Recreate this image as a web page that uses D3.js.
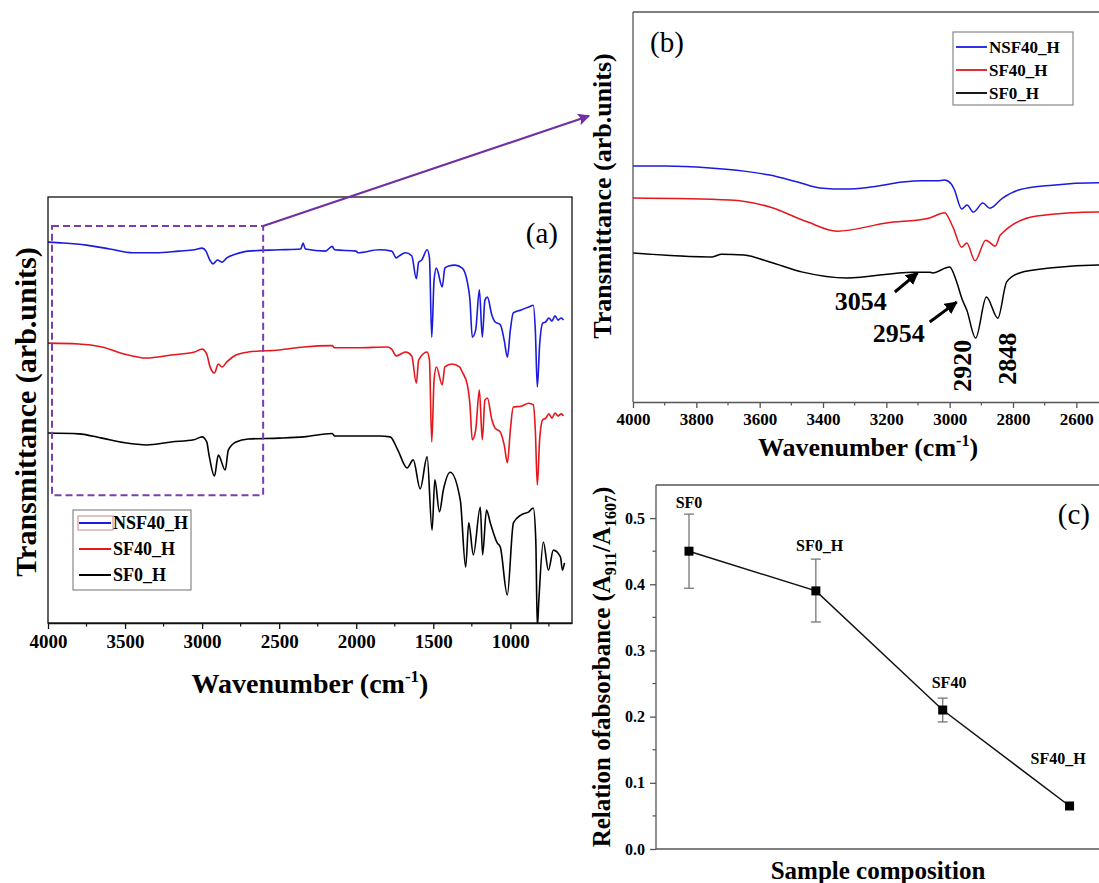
<!DOCTYPE html>
<html><head><meta charset="utf-8">
<script src="https://cdn.jsdelivr.net/npm/d3@7"></script>
<style>
body{margin:0;background:#fff}
svg{display:block}
svg text{font-family:"Liberation Serif","Tinos","Times New Roman","DejaVu Serif",serif !important}
</style>
</head><body>
<svg id="fig" width="1099" height="883"></svg>
<script>
// ---------------- DATA ----------------
const seriesNames = ["NSF40_H", "SF40_H", "SF0_H"];
const seriesColors = ["#1a1ae0", "#e5161c", "#000000"];

// Panel (a): full FTIR spectra [wavenumber, transmittance (arb.)]
const aNSF40H = [[4000,89.4],[3900,89.2],[3750,88.7],[3600,87.8],[3450,86.9],[3300,86.9],[3150,87.3],[3050,87.6],[3000,88.0],[2975,87.3],[2950,85.2],[2930,84.3],[2900,85.2],[2870,84.7],[2840,85.7],[2780,86.6],[2700,87.3],[2500,87.6],[2360,87.8],[2345,89.2],[2330,87.8],[2200,87.3],[2156,88.4],[2140,87.6],[2000,87.3],[1990,86.9],[1850,87.6],[1770,87.3],[1740,85.7],[1720,86.2],[1680,86.9],[1640,86.2],[1610,80.8],[1595,84.7],[1575,85.2],[1540,87.6],[1525,85.7],[1510,67.1],[1495,80.5],[1480,83.3],[1442,78.9],[1425,83.3],[1400,83.8],[1360,84.0],[1312,83.3],[1279,80.0],[1262,75.8],[1247,67.1],[1225,68.8],[1201,78.2],[1182,67.1],[1165,75.8],[1149,76.5],[1120,72.3],[1100,70.7],[1065,70.0],[1040,66.4],[1019,62.4],[1000,68.8],[981,72.8],[930,73.5],[880,74.2],[851,74.6],[838,68.8],[825,55.4],[810,65.3],[790,70.4],[770,70.7],[750,71.6],[730,70.9],[710,72.1],[690,71.1],[670,71.6],[655,71.1]];
const aSF40H = [[4000,65.7],[3800,65.5],[3650,64.8],[3500,63.1],[3360,62.2],[3200,62.9],[3050,63.6],[3000,64.3],[2970,63.1],[2950,60.3],[2920,58.7],[2895,60.8],[2870,60.1],[2840,61.3],[2780,62.9],[2700,63.6],[2500,64.1],[2340,64.8],[2156,65.1],[2140,64.6],[1990,64.6],[1800,64.8],[1770,64.3],[1740,62.7],[1680,63.6],[1640,62.7],[1610,56.3],[1595,61.7],[1540,63.6],[1525,61.7],[1510,42.5],[1495,57.0],[1480,60.1],[1442,55.9],[1425,60.1],[1380,60.8],[1330,60.1],[1312,58.9],[1279,55.9],[1262,51.2],[1247,43.0],[1225,45.3],[1201,54.7],[1182,43.0],[1165,52.3],[1149,52.8],[1120,47.7],[1100,45.8],[1065,44.8],[1040,41.8],[1019,37.6],[1000,45.3],[981,50.7],[930,50.9],[880,51.6],[851,51.2],[838,45.3],[825,32.4],[810,43.0],[790,47.7],[770,48.1],[750,49.1],[730,48.1],[710,49.3],[690,48.6],[670,49.1],[655,48.6]];
const aSF0H = [[4000,44.6],[3800,44.4],[3650,43.4],[3500,42.3],[3360,41.8],[3200,42.5],[3054,43.0],[3000,43.7],[2970,42.5],[2955,39.4],[2920,34.5],[2895,39.4],[2850,35.9],[2830,40.6],[2780,42.5],[2700,43.2],[2500,43.4],[2340,43.7],[2156,44.5],[2140,43.9],[1990,43.9],[1850,43.9],[1780,43.7],[1730,40.6],[1670,36.4],[1630,38.3],[1585,31.5],[1540,39.0],[1508,21.8],[1490,33.6],[1460,26.1],[1435,31.2],[1390,35.4],[1325,28.9],[1290,13.1],[1270,23.5],[1240,16.0],[1195,27.2],[1180,16.0],[1155,26.5],[1130,23.5],[1085,18.8],[1065,17.8],[1020,6.6],[980,23.5],[930,25.4],[880,26.1],[851,27.0],[835,19.5],[825,-1.0],[815,5.4],[786,19.0],[753,12.4],[721,17.1],[675,15.5],[662,12.4],[649,14.1]];

// Panel (b): C-H stretching region
const bNSF40H = [[4000,60.5],[3900,60.5],[3757,60.0],[3650,59.2],[3568,58.2],[3480,56.4],[3410,54.9],[3325,54.6],[3250,55.1],[3148,56.4],[3085,56.7],[3040,56.7],[3016,56.9],[2995,55.9],[2985,54.4],[2962,49.5],[2945,50.5],[2925,48.7],[2895,51.0],[2873,49.7],[2833,52.3],[2780,54.4],[2675,55.6],[2530,56.2],[2500,56.2]];
const bSF40H = [[4000,52.3],[3694,51.8],[3568,50.0],[3450,46.2],[3356,43.8],[3199,45.9],[3063,47.2],[3016,48.5],[2990,44.9],[2962,39.7],[2946,40.8],[2920,36.2],[2886,41.5],[2856,40.0],[2840,42.8],[2725,47.7],[2530,48.7],[2500,48.7]];
const bSF0H = [[4000,38.2],[3750,37.2],[3720,37.9],[3650,37.7],[3568,35.9],[3464,33.3],[3325,31.8],[3117,33.3],[3063,33.3],[3054,33.1],[3000,34.6],[2980,31.3],[2960,26.2],[2946,23.6],[2918,16.4],[2884,26.9],[2848,21.5],[2820,30.8],[2779,33.1],[2675,34.4],[2530,35.1],[2500,35.1]];
// peak annotations: label, text position [w,v], arrow tail, arrow tip
const bArrowLabels = [
  {label:"3054", text:[3281,23.6], tail:[3173,28.2], tip:[3101,33.1]},
  {label:"2954", text:[3161,15.4], tail:[3063,20.5], tip:[2978,25.6]}
];
const bVerticalLabels = [{label:"2920", pos:[2962,2.6]}, {label:"2848", pos:[2820,4.4]}];

// Panel (c): relation of absorbance
const cSamples = ["SF0", "SF0_H", "SF40", "SF40_H"];
const cValues = [0.45, 0.39, 0.21, 0.065];
const cErrLow = [0.394, 0.343, 0.192, null];
const cErrHigh = [0.506, 0.438, 0.228, null];

// tick labels
const aTicks = [4000, 3500, 3000, 2500, 2000, 1500, 1000];
const aMinor = [3750, 3250, 2750, 2250, 1750, 1250, 750];
const bTicks = [4000, 3800, 3600, 3400, 3200, 3000, 2800, 2600];
const bMinor = [3900, 3700, 3500, 3300, 3100, 2900, 2700, 2500];
const cTicks = [0.0, 0.1, 0.2, 0.3, 0.4, 0.5];
const cMinor = [0.05, 0.15, 0.25, 0.35, 0.45];

// ---------------- DRAW ----------------
const svg = d3.select("#fig");
const FF = '"Liberation Serif","Tinos","Times New Roman","DejaVu Serif",serif';
svg.attr("font-family", FF);

function addMinor(g, scale, vals, orient, len, col) {
  vals.forEach(v => {
    if (orient === "bottom") g.append("line").attr("x1", scale(v)).attr("x2", scale(v)).attr("y1", 0).attr("y2", len).attr("stroke", col).attr("stroke-width", 1.2);
    else g.append("line").attr("y1", scale(v)).attr("y2", scale(v)).attr("x1", 0).attr("x2", -len).attr("stroke", col).attr("stroke-width", 1.2);
  });
}

const defs = svg.append("defs");
defs.append("marker").attr("id","arrBlack").attr("viewBox","0 0 10 10").attr("refX",9).attr("refY",5)
  .attr("markerWidth",4.2).attr("markerHeight",4.2).attr("orient","auto")
  .append("path").attr("d","M0,0 L10,5 L0,10 z").attr("fill","#000");
defs.append("marker").attr("id","arrPurple").attr("viewBox","0 0 10 10").attr("refX",9).attr("refY",5)
  .attr("orient","auto").attr("markerUnits","userSpaceOnUse")
  .attr("markerWidth",14).attr("markerHeight",12)
  .append("path").attr("d","M0,0 L10,5 L0,10 L2,5 z").attr("fill","#7030a0");

// ===== Panel (a) =====
const A = {l:48, r:572, t:197, b:623};
const xA = d3.scaleLinear().domain([4000, 600]).range([A.l, A.r]);
const yA = d3.scaleLinear().domain([0, 100]).range([A.b, A.t]);
defs.append("clipPath").attr("id","clipA").append("rect").attr("x",A.l).attr("y",A.t).attr("width",A.r-A.l).attr("height",A.b-A.t);
const lineA = d3.line().x(d => xA(d[0])).y(d => yA(d[1])).curve(d3.curveMonotoneX);
const gA = svg.append("g");
[aNSF40H, aSF40H, aSF0H].forEach((s, i) => {
  gA.append("path").datum(s).attr("d", lineA).attr("fill","none").attr("stroke", seriesColors[i])
    .attr("stroke-width", 1.6).attr("stroke-linejoin","round").attr("clip-path","url(#clipA)");
});
gA.append("rect").attr("x",A.l).attr("y",A.t).attr("width",A.r-A.l).attr("height",A.b-A.t)
  .attr("fill","none").attr("stroke","#111").attr("stroke-width",1.3);
const axA = gA.append("g").attr("transform",`translate(0,${A.b})`)
  .call(d3.axisBottom(xA).tickValues(aTicks).tickSize(6).tickSizeOuter(0).tickPadding(6).tickFormat(d3.format("d")));
axA.attr("font-family", FF);
axA.select(".domain").attr("stroke","#111").attr("stroke-width",1.3);
axA.selectAll(".tick line").attr("stroke","#111").attr("stroke-width",1.3);
axA.selectAll(".tick text").attr("font-size",19).attr("font-weight","bold").attr("fill","#000");
addMinor(axA, xA, aMinor, "bottom", 3.5, "#111");

// dashed zoom box and arrow
const zoomBox = {w0:3974, w1:2604, v0:30.0, v1:93.2};
gA.append("rect").attr("x", xA(zoomBox.w0)).attr("y", yA(zoomBox.v1))
  .attr("width", xA(zoomBox.w1)-xA(zoomBox.w0)).attr("height", yA(zoomBox.v0)-yA(zoomBox.v1))
  .attr("fill","none").attr("stroke","#7a3cb0").attr("stroke-width",2).attr("stroke-dasharray","7,4");
svg.append("line").attr("x1", xA(zoomBox.w1)).attr("y1", yA(zoomBox.v1)).attr("x2", 589).attr("y2", 116)
  .attr("stroke","#7030a0").attr("stroke-width",2.2).attr("marker-end","url(#arrPurple)");

// label (a)
svg.append("text").attr("x",558).attr("y",243).attr("text-anchor","end").attr("font-size",29).text("(a)");

// legend (a)
const legA = svg.append("g");
legA.append("rect").attr("x",73).attr("y",510).attr("width",118).attr("height",80).attr("fill","#fff").attr("stroke","#888").attr("stroke-width",1.2);
seriesNames.forEach((n, i) => {
  const yy = 523 + i*26;
  legA.append("line").attr("x1",79).attr("x2",111).attr("y1",yy).attr("y2",yy).attr("stroke",seriesColors[i]).attr("stroke-width",2);
  legA.append("text").attr("x",113).attr("y",yy+6).attr("font-size",18).attr("font-weight","bold").text(n);
});
legA.append("rect").attr("x",78).attr("y",516).attr("width",35).attr("height",14).attr("fill","none").attr("stroke","#c47a7a").attr("stroke-width",0.9);

// axis titles (a)
svg.append("text").attr("transform",`translate(36,412) rotate(-90)`).attr("text-anchor","middle")
  .attr("font-size",30).attr("font-weight","bold").text("Transmittance (arb.units)");
const xtA = svg.append("text").attr("x",310).attr("y",693).attr("text-anchor","middle").attr("font-size",28).attr("font-weight","bold");
xtA.append("tspan").text("Wavenumber (cm");
xtA.append("tspan").attr("font-size",17).attr("dy",-11).text("-1");
xtA.append("tspan").attr("dy",11).text(")");

// ===== Panel (b) =====
const B = {l:633, r:1108, t:12, b:402};
const xB = d3.scaleLinear().domain([4000, 2500]).range([B.l, B.r]);
const yB = d3.scaleLinear().domain([0, 100]).range([B.b, B.t]);
defs.append("clipPath").attr("id","clipB").append("rect").attr("x",B.l).attr("y",B.t).attr("width",B.r-B.l).attr("height",B.b-B.t);
const lineB = d3.line().x(d => xB(d[0])).y(d => yB(d[1])).curve(d3.curveMonotoneX);
const gB = svg.append("g");
[bNSF40H, bSF40H, bSF0H].forEach((s, i) => {
  gB.append("path").datum(s).attr("d", lineB).attr("fill","none").attr("stroke", seriesColors[i])
    .attr("stroke-width", 1.5).attr("stroke-linejoin","round").attr("clip-path","url(#clipB)");
});
gB.append("line").attr("x1",B.l).attr("x2",1099).attr("y1",B.t).attr("y2",B.t).attr("stroke","#555").attr("stroke-width",1.3);
gB.append("line").attr("x1",B.l).attr("x2",B.l).attr("y1",B.t).attr("y2",B.b).attr("stroke","#555").attr("stroke-width",1.3);
const axB = gB.append("g").attr("transform",`translate(0,${B.b})`)
  .call(d3.axisBottom(xB).tickValues(bTicks).tickSize(6).tickSizeOuter(0).tickPadding(5).tickFormat(d3.format("d")));
axB.attr("font-family", FF);
axB.select(".domain").attr("stroke","#555").attr("stroke-width",1.3);
axB.selectAll(".tick line").attr("stroke","#555").attr("stroke-width",1.3);
axB.selectAll(".tick text").attr("font-size",17).attr("font-weight","bold").attr("fill","#000");
addMinor(axB, xB, bMinor, "bottom", 3.5, "#555");

// annotations (b)
bArrowLabels.forEach(a => {
  gB.append("line").attr("x1", xB(a.tail[0])).attr("y1", yB(a.tail[1])).attr("x2", xB(a.tip[0])).attr("y2", yB(a.tip[1]))
    .attr("stroke","#000").attr("stroke-width",3).attr("marker-end","url(#arrBlack)");
  gB.append("text").attr("x", xB(a.text[0])).attr("y", yB(a.text[1])).attr("text-anchor","middle")
    .attr("font-size",26).attr("font-weight","bold").text(a.label);
});
bVerticalLabels.forEach(a => {
  gB.append("text").attr("transform",`translate(${xB(a.pos[0])},${yB(a.pos[1])}) rotate(-90)`)
    .attr("dy","0.35em").attr("text-anchor","start").attr("font-size",26).attr("font-weight","bold").text(a.label);
});

svg.append("text").attr("x",650).attr("y",52).attr("font-size",29).text("(b)");

const legB = svg.append("g");
legB.append("rect").attr("x",953).attr("y",32).attr("width",120).attr("height",73).attr("fill","#fff").attr("stroke","#888").attr("stroke-width",1.2);
seriesNames.forEach((n, i) => {
  const yy = 47 + i*23;
  legB.append("line").attr("x1",956).attr("x2",987).attr("y1",yy).attr("y2",yy).attr("stroke",seriesColors[i]).attr("stroke-width",1.8);
  legB.append("text").attr("x",989).attr("y",yy+6).attr("font-size",17).attr("font-weight","bold").text(n);
});

svg.append("text").attr("transform",`translate(611,196) rotate(-90)`).attr("text-anchor","middle")
  .attr("font-size",26).attr("font-weight","bold").text("Transmittance (arb.units)");
const xtB = svg.append("text").attr("x",868).attr("y",456).attr("text-anchor","middle").attr("font-size",26).attr("font-weight","bold");
xtB.append("tspan").text("Wavenumber (cm");
xtB.append("tspan").attr("font-size",16).attr("dy",-10).text("-1");
xtB.append("tspan").attr("dy",10).text(")");

// ===== Panel (c) =====
const C = {l:656, r:1133, t:485, b:849};
const xC = d3.scaleLinear().domain([0.74, 4.5]).range([C.l, C.r]);
const yC = d3.scaleLinear().domain([0, 0.55]).range([C.b, C.t]);
const gC = svg.append("g");
gC.append("line").attr("x1",C.l).attr("x2",1099).attr("y1",C.t).attr("y2",C.t).attr("stroke","#555").attr("stroke-width",1.3);
gC.append("line").attr("x1",C.l).attr("x2",1099).attr("y1",C.b).attr("y2",C.b).attr("stroke","#555").attr("stroke-width",1.3);
const ayC = gC.append("g").attr("transform",`translate(${C.l},0)`)
  .call(d3.axisLeft(yC).tickValues(cTicks).tickSize(6).tickSizeOuter(0).tickPadding(5).tickFormat(d3.format(".1f")));
ayC.attr("font-family", FF);
ayC.select(".domain").attr("stroke","#555").attr("stroke-width",1.3).attr("d",`M-0,${C.t}V${C.b}`);
ayC.selectAll(".tick line").attr("stroke","#555").attr("stroke-width",1.3);
ayC.selectAll(".tick text").attr("font-size",16).attr("font-weight","bold").attr("fill","#000");
addMinor(ayC, yC, cMinor, "left", 3.5, "#555");

const pts = cSamples.map((s, i) => ({s, i: i+1, v: cValues[i], lo: cErrLow[i], hi: cErrHigh[i]}));
gC.append("path").datum(pts).attr("d", d3.line().x(d => xC(d.i)).y(d => yC(d.v)))
  .attr("fill","none").attr("stroke","#111").attr("stroke-width",1.5);
pts.filter(d => d.lo != null).forEach(d => {
  const x = xC(d.i);
  gC.append("line").attr("x1",x).attr("x2",x).attr("y1",yC(d.lo)).attr("y2",yC(d.hi)).attr("stroke","#777").attr("stroke-width",1.3);
  [d.lo, d.hi].forEach(v => gC.append("line").attr("x1",x-5).attr("x2",x+5).attr("y1",yC(v)).attr("y2",yC(v)).attr("stroke","#777").attr("stroke-width",1.3));
});
gC.selectAll("rect.pt").data(pts).enter().append("rect").attr("class","pt")
  .attr("x", d => xC(d.i)-4.5).attr("y", d => yC(d.v)-4.5).attr("width",9).attr("height",9).attr("fill","#000");
// point label anchors in [index, value]
const cLabelPos = [[1.0, 0.515], [2.03, 0.45], [3.05, 0.243], [3.91, 0.128]];
pts.forEach((d, k) => {
  gC.append("text").attr("x", xC(cLabelPos[k][0])).attr("y", yC(cLabelPos[k][1])).attr("text-anchor","middle")
    .attr("font-size",16).attr("font-weight","bold").text(d.s);
});
svg.append("text").attr("x",1090).attr("y",524).attr("text-anchor","end").attr("font-size",29).text("(c)");

const ytC = svg.append("text").attr("transform",`translate(610,667) rotate(-90)`).attr("text-anchor","middle")
  .attr("font-size",25).attr("font-weight","bold");
ytC.append("tspan").text("Relation ofabsorbance (A");
ytC.append("tspan").attr("font-size",16).attr("dy",6).text("911");
ytC.append("tspan").attr("dy",-6).text("/A");
ytC.append("tspan").attr("font-size",16).attr("dy",6).text("1607");
ytC.append("tspan").attr("dy",-6).text(")");
svg.append("text").attr("x",878).attr("y",879).attr("text-anchor","middle").attr("font-size",25).attr("font-weight","bold").text("Sample composition");
</script>
</body></html>
